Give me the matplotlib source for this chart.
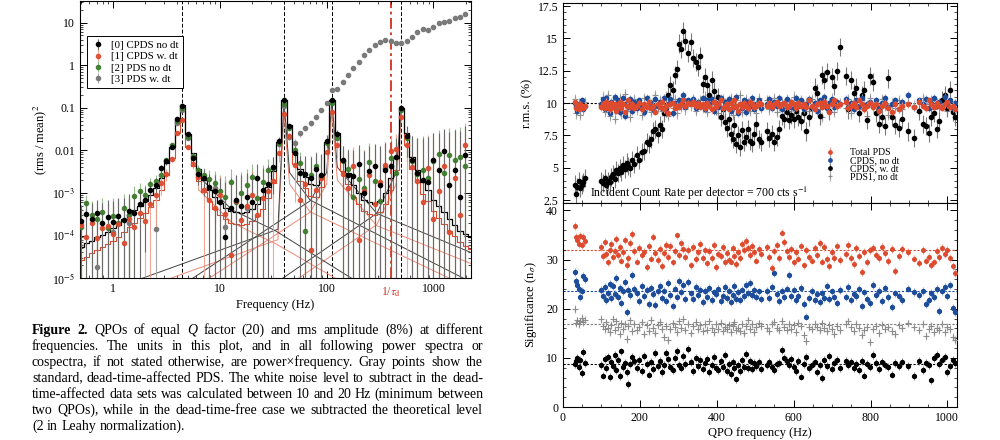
import matplotlib
matplotlib.use('Agg')
import matplotlib.pyplot as plt
import numpy as np
from matplotlib.ticker import MultipleLocator, LogLocator, NullFormatter

plt.rcParams['font.family'] = ['Liberation Serif', 'DejaVu Serif']
plt.rcParams['mathtext.fontset'] = 'stix'
for a in ('xtick', 'ytick'):
    plt.rcParams[a + '.direction'] = 'in'
    plt.rcParams[a + '.labelsize'] = 8.5
plt.rcParams['xtick.top'] = True
plt.rcParams['ytick.right'] = True
plt.rcParams['axes.linewidth'] = 0.8

RED = '#dd4a2e'
BLUE = '#1d4c9a'
GREEN = '#3b7a2a'
GRAY = '#7a7a7a'

# ---------------- left panel: spectra (power x frequency) ----------------
freq_bins = [0.501, 0.562, 0.631, 0.708, 0.794, 0.891, 1.0, 1.122, 1.259, 1.413,
             1.585, 1.778, 1.995, 2.239, 2.512, 2.818, 3.162, 3.548, 3.981, 4.467,
             5.012, 5.623, 6.310, 7.079, 7.943, 8.913, 10.0, 11.22, 12.59, 14.13,
             15.85, 17.78, 19.95, 22.39, 25.12, 28.18, 31.62, 35.48, 39.81, 44.67,
             50.12, 56.23, 63.10, 70.79, 79.43, 89.13, 100.0, 112.2, 125.9, 141.3,
             158.5, 177.8, 199.5, 223.9, 251.2, 281.8, 316.2, 354.8, 398.1, 446.7,
             501.2, 562.3, 631.0, 707.9, 794.3, 891.3, 1000., 1122., 1259., 1413.,
             1585., 1778., 1995., 2239.]

black_model = [5.5e-5, 6.5e-5, 7.5e-5, 9e-5, 1.05e-4, 1.2e-4, 1.5e-4, 1.8e-4, 2.5e-4, 3.2e-4,
               4e-4, 5e-4, 6.5e-4, 9e-4, 1.3e-3, 2.3e-3, 5e-3, 0.012, 0.052, 0.115,
               0.024, 8.5e-3, 3.6e-3, 2.0e-3, 1.2e-3, 8e-4, 5.8e-4, 4.5e-4, 3.8e-4, 3.5e-4,
               3.4e-4, 3.6e-4, 4.2e-4, 5.5e-4, 8e-4, 1.4e-3, 3.2e-3, 0.016, 0.15, 0.040,
               9e-3, 3.6e-3, 2.4e-3, 1.6e-3, 1.5e-3, 2.6e-3, 0.016, 0.15, 0.025, 6e-3,
               3e-3, 1.5e-3, 1.0e-3, 7e-4, 6e-4, 5.5e-4, 6.5e-4, 1.0e-3, 2.2e-3, 6.5e-3,
               0.10, 0.025, 7e-3, 3.5e-3, 1.8e-3, 1.2e-3, 7e-4, 5e-4, 3.5e-4, 2.5e-4,
               1.8e-4, 1.3e-4, 1.1e-4, 9e-5]

red_model = [2.7e-5, 3.2e-5, 3.8e-5, 4.5e-5, 5.3e-5, 6.2e-5, 7.5e-5, 9e-5, 1.2e-4, 1.6e-4,
             2e-4, 2.6e-4, 3.4e-4, 4.6e-4, 6.8e-4, 1.2e-3, 2.7e-3, 6.5e-3, 0.026, 0.055,
             0.012, 4.4e-3, 1.9e-3, 1.05e-3, 6.4e-4, 4.2e-4, 3e-4, 2.4e-4, 2e-4, 1.85e-4,
             1.8e-4, 1.9e-4, 2.2e-4, 2.9e-4, 4.3e-4, 7.5e-4, 1.7e-3, 8.5e-3, 0.075, 0.021,
             4.8e-3, 1.9e-3, 1.3e-3, 8.5e-4, 8e-4, 1.4e-3, 8.5e-3, 0.08, 0.013, 3.2e-3,
             1.6e-3, 8e-4, 5.4e-4, 3.8e-4, 3.2e-4, 3e-4, 3.5e-4, 5.4e-4, 1.2e-3, 3.5e-3,
             0.06, 0.013, 3.7e-3, 1.85e-3, 9.5e-4, 6.3e-4, 3.7e-4, 2.6e-4, 1.85e-4, 1.3e-4,
             9.5e-5, 7e-5, 5.8e-5, 4.8e-5]

spec_err = [3.1e-4, 3.3e-4, 3.5e-4, 3.7e-4, 3.9e-4, 4.2e-4, 4.5e-4, 4.8e-4, 5.1e-4, 5.4e-4,
            5.8e-4, 6.2e-4, 6.6e-4, 7e-4, 7.5e-4, 8e-4, 8.5e-4, 9e-4, 9.6e-4, 1.0e-3,
            1.1e-3, 1.2e-3, 1.25e-3, 1.35e-3, 1.4e-3, 1.5e-3, 1.6e-3, 1.7e-3, 1.8e-3, 1.95e-3,
            2.1e-3, 2.2e-3, 2.35e-3, 2.5e-3, 2.7e-3, 2.85e-3, 3.05e-3, 3.25e-3, 3.45e-3, 3.7e-3,
            3.9e-3, 4.2e-3, 4.5e-3, 4.7e-3, 5.1e-3, 5.4e-3, 5.7e-3, 6.1e-3, 6.5e-3, 6.9e-3,
            7.4e-3, 7.9e-3, 8.4e-3, 8.9e-3, 9.5e-3, 0.010, 0.011, 0.0115, 0.012, 0.013,
            0.014, 0.015, 0.016, 0.017, 0.018, 0.019, 0.020, 0.022, 0.023, 0.025,
            0.026, 0.028, 0.030, 0.032]

nan = np.nan
black_pts = [2.2e-4, 3.2e-4, 2.4e-4, 3.3e-4, 2.0e-4, 2.7e-4, 2.1e-4, 2.8e-4, 2.3e-4, 3.8e-4,
             3.3e-4, 5.5e-4, 7e-4, 1.2e-3, 1.5e-3, 3.8e-3, 5.5e-3, 0.012, 0.055, 0.11,
             0.024, 6.5e-3, 2.8e-3, 2.2e-3, 1.4e-3, 1.1e-3, 6e-4, 9e-5, 4.5e-4, 7e-4,
             5e-4, 8e-4, 6e-4, 2.2e-3, 1.2e-3, 1.6e-3, 4e-3, 0.017, 0.15, 0.038,
             8.5e-3, 3e-3, 2.8e-3, 2.2e-3, 3.6e-3, 2.6e-3, 0.017, 0.15, 0.024, 6e-3,
             2.7e-3, 2.5e-3, 4.8e-3, 1e-3, 3.2e-3, 4.2e-3, 1.5e-3, 3.5e-3, 4.2e-3, 7e-3,
             0.10, 0.022, 6e-3, 3e-3, 2e-3, 1.8e-3, 6e-3, 3.5e-3, 9.5e-3, 1.5e-3,
             3.4e-3, 8e-4, 7.8e-3, nan]

red_pts = [1.8e-4, 9e-5, 2.0e-4, 8.7e-5, 1.5e-4, 1.7e-4, 1.1e-4, 1.9e-4, 6.5e-5, 2.4e-4,
           1.6e-4, 3.3e-4, 2.2e-4, 5.5e-4, 9e-4, 1.7e-3, 2.8e-3, 6.2e-3, 0.026, 0.052,
           0.012, 4.8e-3, 2.4e-3, 1.2e-3, 7e-4, 4.5e-4, 9e-4, 3.2e-4, 3.5e-5, 6.5e-4,
           2.3e-4, 4.8e-4, 9e-4, 3.1e-4, 7.5e-4, 1.1e-3, 1.9e-3, 8.5e-3, 0.072, 0.022,
           4.5e-3, 6.8e-4, 1.6e-3, 4.5e-5, 1.2e-3, 2.2e-3, 9e-3, 0.08, 0.013, 2.8e-3,
           1.3e-3, 4.2e-3, 8e-5, 1.1e-3, 2.6e-3, 5.5e-4, 1.8e-3, 4.6e-3, 9.5e-3, 0.011,
           0.06, 0.013, 4e-3, 1.9e-3, 6e-4, 3.8e-3, 2.4e-4, 1.1e-3, 4.2e-3, 1.2e-4,
           2.2e-3, 3e-4, 0.013, nan]

green_pts = [1.6e-4, 5.8e-4, 3.1e-4, 2.4e-4, 3.6e-4, 1.5e-4, 2.9e-4, 2.0e-4, 4.4e-4, 3.0e-4,
             8.5e-4, 1.1e-3, 9e-4, 1.6e-3, 1.9e-3, 2.6e-3, 5.8e-3, 0.013, 0.05, 0.10,
             0.021, 7.5e-3, 3.4e-3, 2.6e-3, 2.1e-3, 1.7e-3, 1.1e-3, 8e-4, 1.8e-3, 6e-4,
             1.0e-3, 1.5e-3, 2.4e-3, 7.5e-4, 1.8e-3, 3.4e-3, 3.8e-3, 0.015, 0.12, 0.034,
             0.010, 5e-3, 1.3e-4, 2.7e-3, 4.2e-3, 2.4e-3, 0.015, 0.13, 0.020, 5.5e-3,
             3.6e-3, 8e-4, 2.1e-3, 1.3e-3, 5.4e-3, 1.9e-3, 6.5e-4, 3.8e-3, 6.5e-3, 2.9e-3,
             0.09, 0.02, 5.5e-3, 2.8e-3, 3.4e-3, 2.3e-3, 5.5e-3, 8e-3, 3e-3, 7.8e-3,
             6e-3, 7e-3, 4.2e-3, nan]

# standard (dead-time affected) PDS
gray_pts = [nan, nan, nan, 1.8e-5, nan, nan, 1.2e-4, nan, nan, 2.0e-4,
            nan, nan, nan, nan, 1.4e-4, nan, nan, nan, 0.045, 0.09,
            0.02, nan, nan, nan, nan, 1.3e-3, nan, 1.6e-4, nan, nan,
            nan, 4.5e-4, nan, nan, nan, nan, nan, 0.014, 0.11, 0.021,
            0.0147, 0.025, 0.033, 0.043, 0.062, 0.089, 0.128, 0.26, 0.27, 0.41,
            0.59, 0.85, 1.22, 1.74, 2.28, 2.99, 3.58, 3.92, 3.78, 3.40,
            3.40, 3.78, 4.69, 6.15, 6.98, 6.73, 7.76, 9.6, 10.4, 11.1,
            12.6, 13.8, 15.9, nan]

black_components = [([6.3, 13, 33, 170], [2.5e-3, 4e-4, 1.3e-4, 1e-5]),
                    ([1.9, 35, 39.8, 45, 70, 1900], [1e-5, 1.4e-4, 0.15, 3e-3, 6.8e-4, 1e-5]),
                    ([5.6, 70, 100, 112, 126, 295, 2240], [1e-5, 6.5e-4, 3e-3, 0.15, 4e-3, 3.3e-4, 4e-5]),
                    ([39, 295, 447, 501], [1e-5, 3.3e-4, 3e-3, 0.1])]
red_components = [([6.3, 13, 33, 120], [1.2e-3, 2e-4, 6.5e-5, 1e-5]),
                  ([3.5, 35, 39.8, 45, 70, 1400], [1e-5, 8e-5, 0.075, 1.6e-3, 3.6e-4, 1e-5]),
                  ([8, 70, 100, 112, 126, 295, 2240], [1e-5, 3.5e-4, 1.6e-3, 0.08, 2e-3, 1.7e-4, 2.2e-5]),
                  ([55, 295, 447, 501], [1e-5, 1.8e-4, 1.6e-3, 0.06])]

qpo_freqs = [4.45, 39.8, 112, 500]
dead_time_freq = 400

# ---------------- right panels: QPO scan ----------------
qpo_freq = [30, 33, 37, 41, 45, 49, 53, 57,
            98, 103, 108, 113, 117, 121, 126, 130, 135, 139,
            144, 148, 152, 157, 161, 166, 170, 175, 180, 186,
            192, 199, 205, 211, 218, 224, 229, 235, 240, 246,
            252, 257, 262, 268, 273, 279, 285, 291, 297, 302,
            308, 313, 318, 325, 332, 338, 345, 351, 357, 363,
            369, 375, 381, 387, 393, 399, 404, 410, 416, 421,
            426, 431, 436, 441, 446, 451, 456, 461, 466, 471,
            476, 481, 486, 491, 497, 503, 509, 515,
            530, 537, 544, 550, 556, 563, 570, 576, 582, 588,
            594, 600, 606, 612, 619, 626, 632, 640, 648, 655,
            662, 668, 674, 680, 686, 692, 699, 706, 713, 720,
            735, 742, 749, 756, 763, 770, 777, 784, 791, 798,
            806, 814, 822, 830, 838, 846, 855, 864, 873, 882,
            898, 912, 926, 936, 944, 951, 958, 965, 972, 979,
            986, 993, 1000, 1007, 1014, 1021]

rms_cpds_wdt = [3.7, 3.0, 3.5, 4.0, 3.4, 3.7, 3.9, 4.2,
                4.0, 3.8, 4.2, 3.7, 4.0, 3.9, 4.3, 4.5, 4.1, 4.8,
                4.6, 5.0, 4.7, 5.2, 4.9, 5.4, 5.1, 5.0, 5.6, 5.3,
                6.0, 5.6, 6.2, 6.3, 7.0, 6.8, 7.2, 7.8, 8.0, 7.6,
                8.3, 8.0, 9.2, 9.6, 10.6, 11.4, 11.0, 12.2, 12.6, 14.6,
                14.2, 15.6, 14.8, 13.9, 14.7, 13.5, 13.2, 12.8, 13.6, 11.5,
                12.0, 11.4, 10.6, 11.8, 10.9, 9.8, 10.5, 8.9, 9.5, 8.5,
                8.1, 8.8, 7.6, 7.2, 8.3, 6.8, 7.5, 6.6, 7.9, 7.0,
                7.4, 8.0, 7.1, 6.9, 7.6, 8.4, 7.2, 7.0,
                7.8, 7.3, 7.6, 7.0, 7.4, 8.0, 9.0, 8.8, 9.3, 8.7,
                9.1, 8.8, 9.4, 8.9, 8.6, 9.2, 7.8, 8.9, 9.6, 11.2,
                10.8, 9.0, 12.2, 11.8, 12.4, 9.4, 12.0, 11.3, 12.5, 14.3,
                12.1, 9.5, 11.8, 10.8, 11.2, 9.2, 10.6, 11.0, 8.7, 12.1,
                11.6, 9.2, 8.4, 8.9, 8.2, 11.9, 8.9, 8.3, 8.1, 8.8,
                7.8, 7.3, 9.4, 8.4, 8.2, 7.7, 8.9, 9.2, 8.0, 8.6,
                10.2, 10.6, 9.6, 11.0, 9.3, 8.9]

rms_total = [10.1, 9.6, 9.8, 9.5, 9.9, 9.7, 9.6, 9.8,
             9.7, 9.9, 9.6, 10.1, 9.8, 9.5, 10.0, 9.7, 9.9, 9.4,
             9.8, 10.1, 9.6, 9.9, 9.3, 9.8, 10.2, 9.7, 9.9, 9.6,
             9.8, 10.0, 9.5, 9.9, 9.7, 10.1, 9.6, 9.8, 9.3, 9.9,
             9.7, 10.1, 9.5, 9.8, 9.2, 9.9, 10.0, 9.6, 9.8, 9.7,
             9.9, 10.2, 9.8, 10.0, 9.9, 10.1, 9.8, 10.0, 9.7, 9.9,
             9.6, 10.0, 9.8, 9.5, 10.1, 9.7, 9.9, 10.2, 9.6, 9.8,
             9.9, 9.5, 10.0, 9.7, 10.2, 9.8, 9.4, 9.9, 9.7, 10.0,
             9.8, 9.6, 10.1, 9.9, 9.7, 9.8, 10.0, 9.9,
             9.8, 10.0, 9.7, 9.9, 10.1, 9.8, 9.9, 10.0, 9.7, 9.8,
             10.1, 9.9, 9.6, 10.0, 9.8, 9.9, 9.7, 10.2, 9.8, 9.5,
             9.9, 10.0, 9.7, 10.1, 9.8, 9.3, 9.9, 10.2, 9.8, 9.9,
             10.1, 9.6, 9.8, 10.0, 9.7, 10.2, 9.9, 9.5, 9.8, 10.0,
             9.7, 9.9, 9.4, 9.8, 10.0, 9.6, 9.3, 9.9, 9.5, 9.8,
             9.9, 9.7, 10.1, 9.8, 9.6, 10.2, 9.9, 9.7, 10.0, 9.8,
             9.6, 9.9, 10.1, 9.7, 9.8, 9.5]

rms_cpds_nodt = [10.0, 9.7, 9.4, 9.9, 9.6, 10.2, 9.5, 9.8,
                 9.9, 10.3, 9.5, 10.4, 9.7, 9.2, 10.1, 9.8, 10.5, 9.6,
                 10.2, 9.3, 9.9, 10.4, 9.0, 10.0, 9.7, 10.3, 9.4, 10.1,
                 9.6, 10.2, 9.8, 9.3, 10.4, 9.7, 10.0, 9.5, 10.3, 9.8,
                 10.1, 9.6, 10.4, 9.4, 9.9, 10.3, 9.2, 10.0, 9.7, 10.2,
                 10.0, 10.6, 9.7, 10.2, 9.9, 10.3, 9.6, 10.1, 9.8, 10.4,
                 9.5, 10.2, 9.9, 10.3, 9.4, 10.0, 9.7, 10.4, 9.6, 10.1,
                 9.8, 10.3, 9.4, 10.0, 9.7, 10.5, 9.2, 9.9, 9.6, 10.2,
                 9.3, 10.1, 9.8, 10.4, 9.5, 9.9, 10.2, 9.6,
                 9.9, 10.3, 9.6, 10.1, 9.8, 10.4, 9.5, 10.0, 10.3, 9.7,
                 10.1, 9.6, 10.4, 9.8, 10.2, 9.5, 9.9, 10.3, 9.7, 10.0,
                 9.4, 10.2, 9.8, 10.5, 9.6, 10.0, 10.3, 9.7, 10.1, 9.9,
                 10.3, 9.7, 10.0, 9.5, 10.2, 9.8, 10.4, 9.6, 9.9, 10.1,
                 9.8, 10.2, 9.6, 10.0, 10.4, 9.7, 9.9, 10.2, 9.5, 10.1,
                 10.6, 9.7, 10.2, 9.9, 10.3, 9.6, 10.0, 10.4, 9.8, 10.1,
                 9.7, 10.5, 9.9, 10.2, 9.6, 10.0]

rms_pds1 = [10.3, 9.2, 9.6, 10.0, 9.1, 9.8, 9.5, 10.1,
            9.8, 10.5, 9.3, 9.9, 10.6, 9.0, 9.7, 10.2, 8.8, 10.0,
            9.6, 10.4, 9.2, 9.9, 10.7, 9.4, 10.1, 8.9, 9.8, 10.3,
            9.5, 10.0, 9.1, 10.4, 9.7, 10.2, 9.3, 9.9, 10.6, 9.6,
            10.2, 9.4, 9.8, 10.5, 9.0, 10.1, 9.6, 10.3, 9.2, 9.9,
            9.7, 10.4, 9.5, 10.0, 9.8, 10.3, 9.4, 9.9, 10.2, 9.6,
            10.5, 9.3, 9.9, 10.1, 9.6, 10.4, 9.2, 9.8, 10.3, 9.5,
            10.0, 9.6, 10.4, 9.1, 9.8, 10.2, 9.5, 10.6, 9.3, 9.9,
            10.3, 9.7, 9.4, 10.1, 9.8, 9.2, 10.4, 9.6,
            10.2, 9.5, 9.9, 10.4, 9.3, 9.8, 10.1, 9.6, 10.3, 9.4,
            9.9, 10.5, 9.2, 9.8, 10.2, 9.6, 10.0, 9.4, 10.3, 9.7,
            10.1, 9.5, 8.9, 10.2, 9.7, 9.9, 10.4, 9.3, 9.8, 10.0,
            9.6, 10.3, 9.2, 9.9, 10.1, 9.5, 10.2, 9.8, 9.0, 10.4,
            9.7, 10.0, 9.4, 10.3, 9.8, 9.1, 10.0, 9.6, 10.2, 9.5,
            10.1, 9.8, 9.3, 10.4, 9.7, 9.9, 10.2, 9.5, 10.0, 9.6,
            10.3, 9.8, 9.4, 10.1, 9.7, 9.9]

sig_total = [36.8, 34.5, 34.0, 33.2, 34.8, 32.9, 34.6, 33.8,
             32.5, 30.8, 33.6, 31.2, 29.4, 32.0, 33.1, 30.6, 31.8, 34.2,
             31.0, 32.6, 29.8, 31.5, 34.0, 28.9, 30.4, 33.3, 35.2, 31.7,
             29.6, 32.4, 30.9, 31.6, 28.5, 32.8, 30.2, 34.6, 31.3, 29.9,
             32.1, 28.7, 31.4, 33.0, 30.5, 32.7, 29.4, 31.8, 34.9, 31.0,
             33.4, 32.2, 30.6, 31.9, 28.8, 32.5, 30.1, 31.6, 33.2, 30.4,
             32.0, 29.2, 31.7, 30.3, 32.9, 28.4, 31.2, 30.7, 32.6, 29.5,
             31.4, 30.0, 29.6, 32.3, 30.8, 29.1, 31.5, 30.4, 33.1, 31.9,
             33.8, 32.4, 30.9, 32.8, 31.5, 29.8, 32.2, 31.1,
             32.5, 30.6, 28.2, 31.7, 33.0, 30.3, 35.5, 33.6, 31.8, 30.5,
             32.1, 29.4, 31.6, 30.2, 32.7, 28.8, 31.9, 30.6, 29.8, 32.4,
             31.0, 33.4, 29.6, 32.6, 30.1, 28.7, 31.5, 30.3, 32.8, 29.9,
             31.2, 33.0, 30.4, 29.1, 32.3, 30.8, 27.4, 31.6, 29.5, 31.9,
             32.4, 31.0, 30.3, 32.6, 31.4, 29.7, 32.1, 27.6, 30.8, 32.2,
             31.5, 30.2, 29.3, 32.0, 29.8, 30.6, 28.9, 29.4, 31.7, 30.5,
             32.3, 31.1, 32.0, 30.4, 28.6, 27.3]

sig_cpds_nodt = [27.4, 25.6, 24.8, 24.0, 22.4, 23.6, 26.6, 26.0,
                 23.8, 22.6, 24.4, 21.8, 23.2, 25.0, 22.1, 24.6, 23.0, 26.2,
                 22.4, 24.2, 21.2, 23.6, 25.4, 19.4, 23.9, 22.8, 26.8, 24.0,
                 23.2, 21.6, 24.7, 22.5, 23.8, 21.0, 24.3, 22.9, 20.8, 23.5,
                 24.6, 22.2, 23.7, 21.5, 25.2, 22.8, 20.6, 24.1, 22.3, 25.6,
                 23.4, 24.8, 22.0, 25.5, 23.1, 21.9, 24.5, 22.7, 23.9, 21.4,
                 23.6, 22.4, 24.2, 21.8, 23.3, 22.9, 24.0, 21.6, 22.6, 24.4,
                 22.1, 23.7, 21.3, 22.8, 24.6, 22.0, 23.4, 21.7, 23.9, 22.5,
                 24.8, 23.2, 25.3, 22.7, 23.8, 22.4, 23.5, 21.9,
                 23.6, 22.2, 24.4, 27.2, 23.0, 21.5, 23.7, 22.4, 24.1, 26.9,
                 22.6, 23.9, 21.8, 22.5, 24.3, 20.9, 18.4, 22.2, 23.6, 21.7,
                 22.9, 21.4, 23.2, 22.1, 24.6, 21.9, 23.5, 22.3, 21.1, 23.8,
                 22.4, 24.5, 21.7, 23.0, 22.6, 24.0, 20.6, 23.3, 22.0, 21.2,
                 24.9, 22.7, 23.6, 21.5, 24.2, 22.4, 20.3, 23.1, 22.5, 21.8,
                 24.1, 23.4, 22.8, 23.6, 20.9, 21.7, 23.2, 22.3, 24.0, 19.5,
                 23.5, 24.4, 22.6, 24.8, 20.2, 19.3]

sig_pds1 = [19.9, 17.0, 17.6, 16.8, 17.4, 18.1, 17.2, 17.8,
            17.9, 16.4, 15.8, 17.2, 16.0, 15.2, 16.6, 18.0, 15.6, 17.4,
            16.2, 14.8, 17.0, 15.9, 16.8, 13.8, 16.4, 17.6, 15.4, 16.9,
            15.7, 16.3, 17.2, 14.9, 16.6, 15.5, 17.8, 16.1, 15.0, 16.7,
            17.3, 15.8, 14.2, 16.5, 13.6, 15.9, 17.0, 16.2, 15.3, 17.5,
            16.0, 17.9, 15.6, 16.8, 15.1, 16.4, 17.3, 15.8, 16.6, 15.4,
            16.9, 15.7, 17.4, 16.1, 15.3, 16.8, 15.9, 17.1, 15.5, 16.3,
            15.8, 16.7, 15.2, 16.4, 17.2, 15.6, 16.0, 15.4, 16.9, 15.1,
            16.5, 17.6, 15.9, 16.8, 15.3, 16.2, 17.0, 16.4,
            16.1, 15.5, 16.9, 17.3, 16.0, 15.7, 17.5, 16.3, 15.6, 16.8,
            15.9, 16.6, 15.2, 17.1, 16.4, 14.6, 13.4, 16.2, 15.8, 16.9,
            16.3, 15.6, 17.0, 16.1, 15.4, 16.7, 15.9, 14.8, 16.5, 15.7,
            16.8, 17.4, 16.2, 15.5, 16.9, 16.1, 14.7, 15.6, 16.3, 13.2,
            15.8, 16.5, 15.1, 16.7, 15.9, 16.2, 15.4, 14.9, 16.6, 16.0,
            17.0, 16.3, 15.7, 16.9, 14.4, 15.8, 16.4, 15.2, 16.1, 15.6,
            16.8, 15.3, 16.2, 15.9, 14.3, 13.6]

sig_cpds_wdt = [8.8, 9.4, 10.0, 8.2, 9.6, 7.0, 11.2, 9.0,
                8.6, 6.4, 9.8, 7.9, 10.2, 6.1, 9.2, 8.4, 10.6, 7.6,
                9.5, 6.3, 11.3, 8.1, 9.0, 7.2, 4.6, 8.7, 10.1, 9.3,
                8.0, 9.6, 7.4, 10.4, 8.8, 6.6, 9.1, 7.8, 10.9, 8.3,
                9.4, 7.1, 8.6, 11.0, 9.8, 8.2, 7.5, 9.9, 11.4, 8.5,
                7.9, 10.3, 8.7, 11.8, 9.2, 7.3, 10.0, 8.4, 9.6, 7.7,
                8.9, 9.7, 7.2, 8.5, 10.2, 8.0, 7.6, 9.3, 8.1, 10.5,
                7.4, 8.8, 6.8, 9.1, 7.9, 5.6, 8.6, 7.3, 9.5, 8.2,
                10.8, 8.0, 9.4, 7.7, 8.9, 8.3, 9.1, 7.8,
                8.5, 9.2, 8.1, 7.5, 8.7, 9.0, 11.6, 10.0, 9.3, 8.6,
                9.8, 8.2, 7.4, 9.4, 6.2, 8.8, 10.1, 7.9, 8.5, 9.2,
                7.1, 8.6, 5.9, 9.5, 8.3, 10.4, 7.8, 8.9, 9.6, 8.0,
                9.3, 8.5, 9.1, 8.0, 8.8, 7.6, 9.4, 6.4, 8.7, 8.2,
                10.5, 8.9, 7.8, 9.2, 8.6, 8.1, 6.6, 9.0, 8.4, 9.1,
                8.3, 6.3, 9.4, 7.6, 9.0, 8.5, 5.4, 9.9, 10.6, 8.8,
                9.6, 10.2, 7.2, 8.4, 9.5, 8.9]

rms_err = {'wdt': 0.7, 'total': 0.25, 'nodt': 0.3, 'pds1': 0.4}
sig_err = 0.8
rms_level = 10.0
sig_levels = [32.0, 23.7, 16.8, 8.8]

fig = plt.figure(figsize=(10, 4.4), dpi=100)

# ======== left panel ========
ax = fig.add_axes([0.080, 0.368, 0.391, 0.6295])
ax.set_xscale('log')
ax.set_yscale('log')
ax.set_xlim(0.49, 2250)
ax.set_ylim(1e-5, 32)

for f0 in qpo_freqs:
    ax.axvline(f0, color='k', ls=(0, (4, 2)), lw=0.7, zorder=1)
ax.axvline(dead_time_freq, color='#d0301c', ls=(0, (6, 2, 1.5, 2)), lw=1.3, zorder=1)

for f, v in red_components:
    ax.plot(f, v, color='#ee8a78', lw=0.7, zorder=2)
for f, v in black_components:
    ax.plot(f, v, color='#444444', lw=0.7, zorder=2)
ax.step(freq_bins, red_model, where='mid', color=RED, lw=0.8, zorder=3)
ax.step(freq_bins, black_model, where='mid', color='k', lw=0.9, zorder=3)

kw = dict(fmt='o', ms=3, elinewidth=0.8, capsize=0, zorder=4)
h3 = ax.errorbar(freq_bins, gray_pts, yerr=spec_err, color=GRAY, ecolor='#a8a8a8', **kw)
h2 = ax.errorbar(freq_bins, green_pts, yerr=spec_err, color=GREEN, ecolor='#8fb585', alpha=0.9, **kw)
h1 = ax.errorbar(freq_bins, red_pts, yerr=spec_err, color=RED, ecolor='#ef9f8e', alpha=0.9, **kw)
h0 = ax.errorbar(freq_bins, black_pts, yerr=spec_err, color='k', ecolor='#6a6a6a', **kw)

leg = ax.legend([h0, h1, h2, h3], ['[0] CPDS no dt', '[1] CPDS w. dt', '[2] PDS no dt', '[3] PDS w. dt'],
                loc='upper left', bbox_to_anchor=(0.018, 0.873), borderaxespad=0, fontsize=7.8,
                fancybox=False, edgecolor='k', framealpha=1, labelspacing=0.15,
                handlelength=1.2, handletextpad=0.6, borderpad=0.4)
leg.get_frame().set_linewidth(0.7)

ax.set_xticks([1, 10, 100, 1000], labels=['1', '10', '100', '1000'])
ax.xaxis.set_minor_locator(LogLocator(base=10, subs=np.arange(2, 10), numticks=20))
ax.xaxis.set_minor_formatter(NullFormatter())
ax.set_yticks([1e-5, 1e-4, 1e-3, 0.01, 0.1, 1, 10],
              labels=['10$^{-5}$', '10$^{-4}$', '10$^{-3}$', '0.01', '0.1', '1', '10'])
ax.yaxis.set_minor_locator(LogLocator(base=10, subs=np.arange(2, 10), numticks=20))
ax.yaxis.set_minor_formatter(NullFormatter())
ax.tick_params(which='major', length=5, width=0.7)
ax.tick_params(which='minor', length=2.5, width=0.5)
ax.set_xlabel('Frequency (Hz)', fontsize=9, labelpad=3)
ax.set_ylabel('(rms / mean)$^2$', fontsize=9, labelpad=2)
ax.text(dead_time_freq, -0.025, r'1/$\tau_{\rm d}$', color='#d0301c', fontsize=8.5,
        ha='center', va='top', transform=ax.get_xaxis_transform())

# ======== right top: rms ========
axt = fig.add_axes([0.563, 0.5386, 0.394, 0.4545])
axt.axhline(rms_level, color='k', ls=(0, (2, 1.5)), lw=0.8, zorder=1)
kw2 = dict(capsize=0, elinewidth=0.8)
p_pds1 = axt.errorbar(qpo_freq, rms_pds1, yerr=rms_err['pds1'], fmt='+', ms=4, mew=0.8,
                      color='#8c8c8c', ecolor='#b0b0b0', zorder=2, **kw2)
p_wdt = axt.errorbar(qpo_freq, rms_cpds_wdt, yerr=rms_err['wdt'], fmt='o', ms=3,
                     color='k', ecolor='#7a7a7a', zorder=3, **kw2)
p_nodt = axt.errorbar(qpo_freq, rms_cpds_nodt, yerr=rms_err['nodt'], fmt='o', ms=3,
                      color=BLUE, ecolor='#90a8d2', zorder=4, **kw2)
p_tot = axt.errorbar(qpo_freq, rms_total, yerr=rms_err['total'], fmt='o', ms=3,
                     color=RED, ecolor='#f0a090', zorder=5, **kw2)
axt.set_xlim(0, 1025)
axt.set_ylim(2.27, 17.73)
axt.set_yticks([2.5, 5, 7.5, 10, 12.5, 15, 17.5], labels=['2.5', '5', '7.5', '10', '12.5', '15', '17.5'])
axt.yaxis.set_minor_locator(MultipleLocator(0.5))
axt.xaxis.set_major_locator(MultipleLocator(200))
axt.xaxis.set_minor_locator(MultipleLocator(50))
axt.tick_params(labelbottom=False)
axt.tick_params(which='major', length=5, width=0.7)
axt.tick_params(which='minor', length=2.5, width=0.5)
axt.set_ylabel('r.m.s. (%)', fontsize=9, labelpad=3)
axt.text(0.068, 0.004, 'Incident Count Rate per detector = 700 cts s$^{-1}$', fontsize=8.5,
         transform=axt.transAxes, ha='left', va='bottom')
lg = axt.legend([p_tot, p_nodt, p_wdt, p_pds1], ['Total PDS', 'CPDS, no dt', 'CPDS, w. dt', 'PDS1, no dt'],
                loc='upper left', bbox_to_anchor=(0.665, 0.275), borderaxespad=0, borderpad=0,
                frameon=False, fontsize=7, labelspacing=-0.08, handlelength=1.0, handletextpad=1.6,
                markerscale=0.8)

# ======== right bottom: significance ========
axb = fig.add_axes([0.563, 0.075, 0.394, 0.4636])
for lev, col in zip(sig_levels, [RED, BLUE, GRAY, 'k']):
    axb.axhline(lev, color=col, ls=(0, (2, 1.5)), lw=0.8, zorder=1)
axb.errorbar(qpo_freq, sig_total, yerr=sig_err, fmt='o', ms=2.6, color=RED, ecolor='#f0a090', zorder=3, **kw2)
axb.errorbar(qpo_freq, sig_cpds_nodt, yerr=sig_err, fmt='o', ms=2.8, color=BLUE, ecolor='#90a8d2', zorder=3, **kw2)
axb.errorbar(qpo_freq, sig_pds1, yerr=sig_err, fmt='+', ms=4, mew=0.8, color='#8c8c8c', ecolor='#b5b5b5', zorder=3, **kw2)
axb.errorbar(qpo_freq, sig_cpds_wdt, yerr=sig_err, fmt='o', ms=2.8, color='k', ecolor='#8a8a8a', zorder=3, **kw2)
axb.set_xlim(0, 1025)
axb.set_ylim(0, 41.5)
axb.xaxis.set_major_locator(MultipleLocator(200))
axb.xaxis.set_minor_locator(MultipleLocator(50))
axb.yaxis.set_major_locator(MultipleLocator(10))
axb.yaxis.set_minor_locator(MultipleLocator(2))
axb.tick_params(which='major', length=5, width=0.7)
axb.tick_params(which='minor', length=2.5, width=0.5)
axb.set_xlabel('QPO frequency (Hz)', fontsize=9, labelpad=2)
axb.set_ylabel(r'Significance (n$_\sigma$)', fontsize=9, labelpad=5)

# ======== caption (justified) ========
caption_lines = [
    'Figure 2. QPOs of equal Q factor (20) and rms amplitude (8%) at different',
    'frequencies. The units in this plot, and in all following power spectra or',
    'cospectra, if not stated otherwise, are power\u00d7frequency. Gray points show the',
    'standard, dead-time-affected PDS. The white noise level to subtract in the dead-',
    'time-affected data sets was calculated between 10 and 20 Hz (minimum between',
    'two QPOs), while in the dead-time-free case we subtracted the theoretical level',
    '(2 in Leahy normalization).',
]
renderer = fig.canvas.get_renderer()
W, H = 1000.0, 440.0
x_left, x_right = 32, 483
for i, line in enumerate(caption_lines):
    y = 330 + 16 * i
    words = line.split(' ')
    texts = []
    for j, w in enumerate(words):
        style = {}
        if i == 0 and j < 2:
            style['fontweight'] = 'bold'
        if i == 0 and w == 'Q':
            style['fontstyle'] = 'italic'
        t = fig.text(0, 1 - y / H, w, fontsize=10, ha='left', va='center', **style)
        texts.append(t)
    widths = [t.get_window_extent(renderer).width for t in texts]
    if i == len(caption_lines) - 1:
        gap = 3.3
    else:
        gap = (x_right - x_left - sum(widths)) / (len(words) - 1)
    x = x_left
    for t, w in zip(texts, widths):
        t.set_x(x / W)
        x += w + gap

fig.savefig('out.png', dpi=100)
